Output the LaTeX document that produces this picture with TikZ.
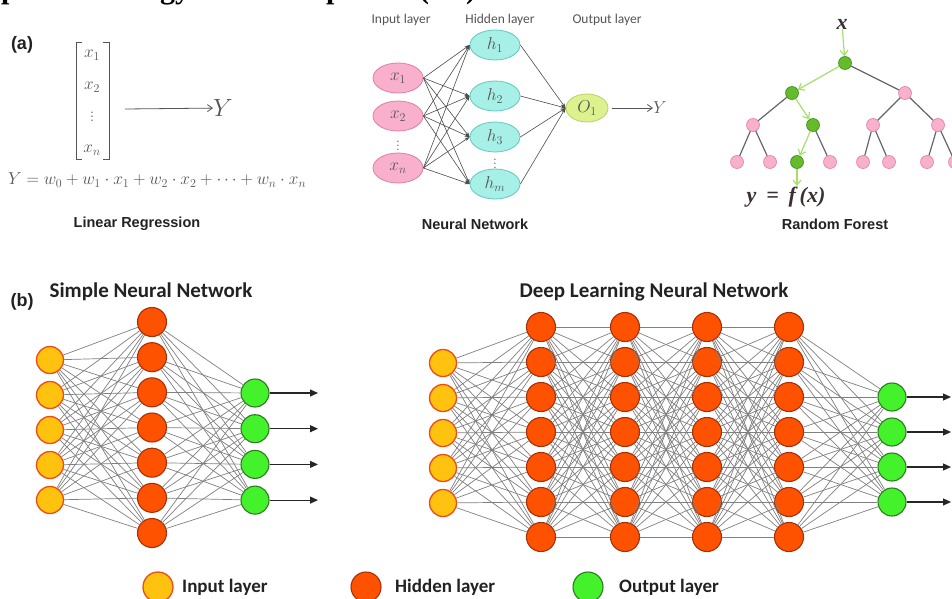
\documentclass[tikz,border=0pt]{standalone}
\usepackage{fontspec}
\usepackage{amsmath}
\newfontfamily\arialf{Liberation Sans}
\newfontfamily\calf{Carlito}
\newfontfamily\timesf{Liberation Serif}
\usetikzlibrary{arrows.meta,shapes.geometric}
\definecolor{inpFill}{HTML}{FFC20E}
\definecolor{inpDraw}{HTML}{F04A1A}
\definecolor{hidFill}{HTML}{FF5200}
\definecolor{hidDraw}{HTML}{A83008}
\definecolor{outFill}{HTML}{44F22C}
\definecolor{outDraw}{HTML}{2E7A22}
\definecolor{edgeC}{HTML}{808080}
\definecolor{pinkF}{HTML}{F8B0CC}
\definecolor{pinkD}{HTML}{E07FA3}
\definecolor{cyanF}{HTML}{A6F0E8}
\definecolor{cyanD}{HTML}{62C8BE}
\definecolor{limeF}{HTML}{DDF28E}
\definecolor{limeD}{HTML}{B4D266}
\definecolor{treeGreenF}{HTML}{66BB2A}
\definecolor{treeGreenD}{HTML}{3C8A1C}
\definecolor{treePath}{HTML}{A6E06A}
\definecolor{mathgray}{HTML}{555555}
\definecolor{labgray}{HTML}{555555}
\definecolor{txtdark}{HTML}{222222}
\begin{document}
\begin{tikzpicture}[x=1pt,y=-1pt,
  inN/.style={circle,draw=inpDraw,fill=inpFill,line width=1.3pt,minimum size=27pt,inner sep=0pt},
  hidN/.style={circle,draw=hidDraw,fill=hidFill,line width=1.1pt,minimum size=29pt,inner sep=0pt},
  outN/.style={circle,draw=outDraw,fill=outFill,line width=1.1pt,minimum size=28pt,inner sep=0pt},
  conn/.style={draw=edgeC,line width=0.7pt},
  outArrow/.style={draw=black!85,line width=1.1pt,-{Triangle[length=8pt,width=7pt]}},
  ellIn/.style={ellipse,draw=pinkD,fill=pinkF,line width=0.8pt,minimum width=50pt,minimum height=30pt,inner sep=0pt,text=mathgray,font=\fontsize{17}{20}\selectfont},
  ellHid/.style={ellipse,draw=cyanD,fill=cyanF,line width=0.8pt,minimum width=50pt,minimum height=30pt,inner sep=0pt,text=mathgray,font=\fontsize{17}{20}\selectfont},
  ellOut/.style={ellipse,draw=limeD,fill=limeF,line width=0.8pt,minimum width=42pt,minimum height=28pt,inner sep=0pt,text=mathgray,font=\fontsize{17}{20}\selectfont},
  nnEdge/.style={draw=black!70,line width=0.6pt,-{Stealth[length=5pt,width=3.5pt]}},
  treeP/.style={circle,draw=pinkD,fill=pinkF,line width=0.6pt,minimum size=13pt,inner sep=0pt},
  treeG/.style={circle,draw=treeGreenD,fill=treeGreenF,line width=0.6pt,minimum size=13pt,inner sep=0pt},
  treeEdge/.style={draw=black!60,line width=1.2pt},
  pathEdge/.style={draw=treePath,line width=1.2pt,-{Straight Barb[length=5pt,width=8pt]}},
  mtext/.style={text=mathgray,inner sep=0pt,font=\fontsize{17.5}{21}\selectfont},
  lrArrow/.style={draw=mathgray,line width=0.8pt,-{Straight Barb[length=5pt,width=7pt]}},
  layerlab/.style={text=labgray,inner sep=0pt,font=\calf\fontsize{13.5}{16}\selectfont},
  caption/.style={text=txtdark,inner sep=0pt,font=\arialf\bfseries\fontsize{14.5}{17}\selectfont},
  partlab/.style={text=txtdark,inner sep=0pt,font=\arialf\bfseries\fontsize{18}{21}\selectfont},
  bigtitle/.style={text=txtdark,inner sep=0pt,font=\calf\bfseries\fontsize{21}{25}\selectfont},
  legtext/.style={text=txtdark,inner sep=0pt,anchor=west,font=\calf\bfseries\fontsize{19}{23}\selectfont},
  titlefrag/.style={text=black,inner sep=0pt,anchor=base west,font=\timesf\bfseries\fontsize{30}{34}\selectfont},
  rfText/.style={text={rgb,255:red,58;green,48;blue,48},inner sep=0pt,font=\timesf\bfseries\itshape\fontsize{22}{26}\selectfont}
]
\useasboundingbox (0,0) rectangle (952,599);
\fill[white] (0,0) rectangle (952,599);
\begin{scope}
\clip (0,0) rectangle (952,599);
% ---------- cut-off title fragments ----------
\node[titlefrag] (tf1) at (1,-1) {p};
\node[titlefrag] (tf2) at (160,-1) {gy};
\node[titlefrag] (tf3) at (326,-1) {p};
\node[titlefrag] (tf4) at (419,-1) {(};
\node[titlefrag] (tf5) at (466,-1) {)};

% ---------- part labels ----------
\node[partlab] (pa) at (22,45) {(a)};
\node[partlab] (pb) at (22,302) {(b)};

% ---------- Linear regression ----------
\draw[mathgray,line width=0.8pt] (82,42) -- (76,42) -- (76,159) -- (82,159);
\draw[mathgray,line width=0.8pt] (103,42) -- (109,42) -- (109,159) -- (103,159);
\node[mtext] (lx1) at (92,55) {$x_1$};
\node[mtext] (lx2) at (92,87) {$x_2$};
\node[mtext] (lxd) at (92,114) {$\vdots$};
\node[mtext] (lxn) at (92,150) {$x_n$};
\coordinate (lrA) at (125,109);
\node[mtext,font=\fontsize{25}{28}\selectfont] (lrY) at (223,108) {$Y$};
\draw[lrArrow] (lrA) -- (lrY);
\node[mtext,anchor=west] (lrEq) at (8,180) {$Y = w_0 + w_1\cdot x_1 + w_2\cdot x_2 + \cdots + w_n\cdot x_n$};
\node[caption] (capLR) at (137,224) {Linear Regression};

% ---------- Neural network (a) ----------
\node[layerlab] (labIn) at (401,20) {Input layer};
\node[layerlab] (labHid) at (500,20) {Hidden layer};
\node[layerlab] (labOut) at (607,20) {Output layer};
\node[ellIn] (ax1) at (398,78) {$x_1$};
\node[ellIn] (ax2) at (398,116) {$x_2$};
\node[mtext,font=\fontsize{14}{16}\selectfont] (axd) at (398,143) {$\vdots$};
\node[ellIn] (axn) at (398,168) {$x_n$};
\node[ellHid] (ah1) at (495,45) {$h_1$};
\node[ellHid] (ah2) at (495,96) {$h_2$};
\node[ellHid] (ah3) at (495,137) {$h_3$};
\node[mtext,font=\fontsize{14}{16}\selectfont] (ahd) at (495,161) {$\vdots$};
\node[ellHid] (ahm) at (495,184) {$h_m$};
\node[ellOut] (ao) at (587,108) {$O_1$};
\foreach \i in {ax1,ax2,axn}{\foreach \j in {ah1,ah2,ah3,ahm}{\draw[nnEdge] (\i.east) -- (\j.west);}}
\foreach \j in {ah1,ah2,ah3,ahm}{\draw[nnEdge] (\j.east) -- (ao.west);}
\node[mtext] (aY) at (660,108) {$Y$};
\draw[lrArrow] ([xshift=4pt]ao.east) -- (aY);
\node[caption] (capNN) at (475,224) {Neural Network};

% ---------- Random forest ----------
\node[rfText] (rx) at (842,24) {x};
\node[treeG] (rRoot) at (845,63) {};
\node[treeG] (rL) at (792,93) {};
\node[treeP] (rR) at (905,93) {};
\node[treeP] (rLL) at (753,125) {};
\node[treeG] (rLR) at (813,125) {};
\node[treeP] (rRL) at (873,125) {};
\node[treeP] (rRR) at (938,125) {};
\node[treeP] (f1) at (737,162) {};
\node[treeP] (f2) at (770,162) {};
\node[treeG] (f3) at (797,162) {};
\node[treeP] (f4) at (830,162) {};
\node[treeP] (f5) at (863,162) {};
\node[treeP] (f6) at (889,162) {};
\node[treeP] (f7) at (927,162) {};
\node[treeP] (f8) at (955,162) {};
\draw[treeEdge] (rRoot) -- (rR);
\draw[treeEdge] (rL) -- (rLL);
\draw[treeEdge] (rR) -- (rRL);
\draw[treeEdge] (rR) -- (rRR);
\draw[treeEdge] (rLL) -- (f1);
\draw[treeEdge] (rLL) -- (f2);
\draw[treeEdge] (rLR) -- (f4);
\draw[treeEdge] (rRL) -- (f5);
\draw[treeEdge] (rRL) -- (f6);
\draw[treeEdge] (rRR) -- (f7);
\draw[treeEdge] (rRR) -- (f8);
\draw[pathEdge] (rx) -- (rRoot);
\draw[pathEdge] (rRoot) -- (rL);
\draw[pathEdge] (rL) -- (rLR);
\draw[pathEdge] (rLR) -- (f3);
\coordinate (fEnd) at (797,186);
\draw[pathEdge] (f3) -- (fEnd);
\node[rfText] (ryfx) at (786,197) {y\hspace{0.45em}=\hspace{0.45em}f\,(x)};
\node[caption] (capRF) at (835,224) {Random Forest};

% ---------- (b) Simple neural network ----------
\node[bigtitle] (tSimple) at (151,292) {Simple Neural Network};
\foreach \k in {1,...,5}{\node[inN] (sI\k) at (50,{360+35*(\k-1)}) {};}
\foreach \k in {1,...,7}{\node[hidN] (sH\k) at (152,{322+35.17*(\k-1)}) {};}
\foreach \k in {1,...,4}{\node[outN] (sO\k) at (255,{393+35.7*(\k-1)}) {};}
\foreach \i in {1,...,5}{\foreach \j in {1,...,7}{\draw[conn] (sI\i) -- (sH\j);}}
\foreach \i in {1,...,7}{\foreach \j in {1,...,4}{\draw[conn] (sH\i) -- (sO\j);}}
\foreach \k in {1,...,4}{\coordinate (sA\k) at (318,{393+35.7*(\k-1)}); \draw[outArrow] (sO\k) -- (sA\k);}

% ---------- (b) Deep learning neural network ----------
\node[bigtitle] (tDeep) at (654,292) {Deep Learning Neural Network};
\foreach \k in {1,...,5}{\node[inN] (dI\k) at (443,{363+35*(\k-1)}) {};}
\foreach \c/\x in {1/541,2/625,3/707,4/789}{\foreach \k in {1,...,7}{\node[hidN] (dH\c-\k) at (\x,{327+35*(\k-1)}) {};}}
\foreach \k in {1,...,4}{\node[outN] (dO\k) at (892,{397+35*(\k-1)}) {};}
\foreach \i in {1,...,5}{\foreach \j in {1,...,7}{\draw[conn] (dI\i) -- (dH1-\j);}}
\foreach \c/\n in {1/2,2/3,3/4}{\foreach \i in {1,...,7}{\foreach \j in {1,...,7}{\draw[conn] (dH\c-\i) -- (dH\n-\j);}}}
\foreach \i in {1,...,7}{\foreach \j in {1,...,4}{\draw[conn] (dH4-\i) -- (dO\j);}}
\foreach \k in {1,...,4}{\coordinate (dA\k) at (951,{397+35*(\k-1)}); \draw[outArrow] (dO\k) -- (dA\k);}

% ---------- Legend ----------
\node[inN,minimum size=30pt] (gIn) at (158,587) {};
\node[legtext] (gInT) at (182,587) {Input layer};
\node[hidN,minimum size=30pt] (gHid) at (366,587) {};
\node[legtext] (gHidT) at (395,587) {Hidden layer};
\node[outN,minimum size=30pt] (gOut) at (588,587) {};
\node[legtext] (gOutT) at (619,587) {Output layer};
\end{scope}
\end{tikzpicture}
\end{document}
